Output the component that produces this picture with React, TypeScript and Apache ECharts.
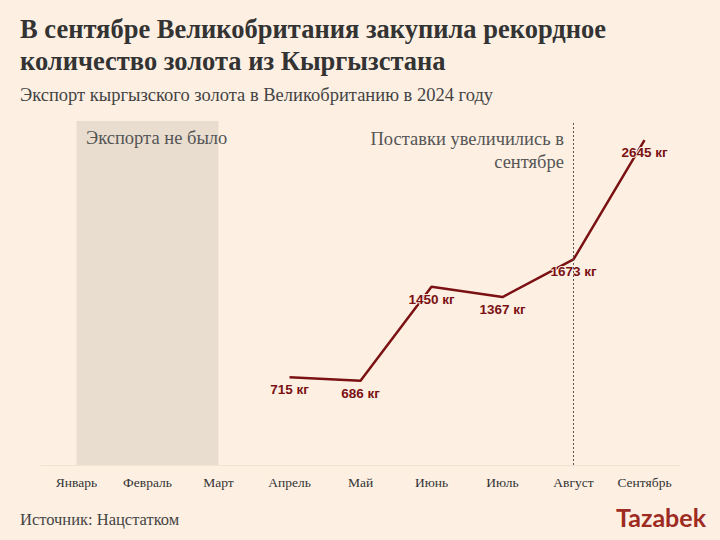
import React, { useEffect, useRef } from "react";
import * as echarts from "echarts";

const months = ["Январь", "Февраль", "Март", "Апрель", "Май", "Июнь", "Июль", "Август", "Сентябрь"];
const exportKg: (number | null)[] = [null, null, null, 715, 686, 1450, 1367, 1673, 2645];
const shadedFrom = "Январь";
const shadedTo = "Март";
const markerMonth = "Август";

const BG = "#fdf0e3";
const LINE = "#7b1113";

export default function App() {
  const ref = useRef<HTMLDivElement>(null);
  useEffect(() => {
    if (!ref.current) return;
    const chart = echarts.init(ref.current, null, { renderer: "svg" });
    chart.setOption({
      animation: false,
      backgroundColor: BG,
      textStyle: { fontFamily: "Liberation Serif" },
      grid: { left: 41, right: 40, top: 121, bottom: 75 },
      xAxis: {
        type: "category",
        data: months,
        boundaryGap: true,
        axisLine: { show: true, lineStyle: { color: "#f2e2d2", width: 1 } },
        axisTick: { show: false },
        axisLabel: { color: "#333", fontSize: 13.5, fontFamily: "Liberation Serif", margin: 10 },
        splitLine: { show: false },
      },
      yAxis: {
        type: "value",
        min: 0,
        max: 2800,
        show: false,
        splitLine: { show: false },
      },
      series: [
        {
          type: "line",
          data: exportKg,
          connectNulls: false,
          symbol: "circle",
          symbolSize: 1,
          showSymbol: true,
          itemStyle: { color: "rgba(0,0,0,0)", borderWidth: 0 },
          lineStyle: { color: LINE, width: 2.5 },
          label: {
            show: true,
            position: "bottom",
            distance: 5,
            opacity: 1,
            color: LINE,
            fontFamily: "Liberation Sans",
            fontWeight: "bold",
            fontSize: 13.5,
            textBorderColor: BG,
            textBorderWidth: 2,
            formatter: (p: any) => `${p.value} кг`,
          },
          markArea: {
            silent: true,
            itemStyle: { color: "#e9ddcf" },
            data: [[{ xAxis: shadedFrom }, { xAxis: shadedTo }]],
          },
          markLine: {
            silent: true,
            symbol: "none",
            label: { show: false },
            lineStyle: { color: "#555", type: [2, 2], width: 1 },
            data: [{ xAxis: markerMonth }],
          },
          z: 3,
        },
      ],
      graphic: [
        {
          type: "text",
          left: 20,
          top: 13,
          z: 100,
          style: {
            text: "В сентябре Великобритания закупила рекордное\nколичество золота из Кыргызстана",
            font: "bold 26.5px 'Liberation Serif'",
            fill: "#333",
            lineHeight: 32,
          },
        },
        {
          type: "text",
          left: 20,
          top: 85,
          z: 100,
          style: {
            text: "Экспорт кыргызского золота в Великобританию в 2024 году",
            font: "18.5px 'Liberation Serif'",
            fill: "#444",
          },
        },
        {
          type: "text",
          left: 86,
          top: 128,
          z: 100,
          style: {
            text: "Экспорта не было",
            font: "18.5px 'Liberation Serif'",
            fill: "#555",
          },
        },
        {
          type: "text",
          x: 564,
          y: 127,
          z: 100,
          style: {
            text: "Поставки увеличились в\nсентябре",
            font: "18.5px 'Liberation Serif'",
            fill: "#555",
            align: "right",
            lineHeight: 23,
          },
        },
        {
          type: "text",
          left: 20,
          top: 511,
          z: 100,
          style: {
            text: "Источник: Нацстатком",
            font: "16.5px 'Liberation Serif'",
            fill: "#444",
          },
        },
        {
          type: "text",
          right: 14,
          top: 504,
          z: 100,
          style: {
            text: "Tazabek",
            font: "bold 25px 'Lato'",
            fill: "#9e2b22",
          },
        },
      ],
    });
    return () => chart.dispose();
  }, []);
  return <div ref={ref} style={{ width: 720, height: 540, position: "absolute", left: 0, top: 0 }} />;
}
